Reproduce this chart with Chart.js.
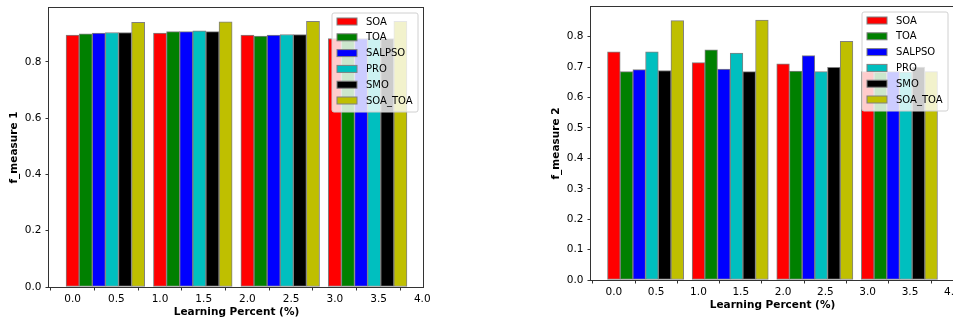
<!DOCTYPE html>
<html>
<head>
<meta charset="utf-8">
<script src="https://cdn.jsdelivr.net/npm/chart.js@4.4.1/dist/chart.umd.min.js"></script>
<style>
  html, body { margin: 0; padding: 0; background: #fff; overflow: hidden; }
  body { width: 953px; height: 322px; position: relative; }
  canvas { position: absolute; top: 0; }
  #chart1 { left: 0; }
  #chart2 { left: 542px; }
</style>
</head>
<body>
<canvas id="chart1" width="440" height="322"></canvas>
<canvas id="chart2" width="412" height="315"></canvas>
<script>
// group positions on the x axis (learning percent)
const groups = [0, 1, 2, 3];
const seriesNames = ['SOA', 'TOA', 'SALPSO', 'PRO', 'SMO', 'SOA_TOA'];
const seriesColors = ['#ff0000', '#008000', '#0000ff', '#00bfbf', '#000000', '#bfbf00'];

// f_measure 1
const f1_SOA = [0.895, 0.902, 0.895, 0.883];
const f1_TOA = [0.899, 0.907, 0.891, 0.883];
const f1_SALPSO = [0.902, 0.907, 0.895, 0.883];
const f1_PRO = [0.904, 0.910, 0.897, 0.883];
const f1_SMO = [0.904, 0.907, 0.897, 0.883];
const f1_SOA_TOA = [0.940, 0.942, 0.944, 0.944];

// f_measure 2
const f2_SOA = [0.750, 0.715, 0.711, 0.685];
const f2_TOA = [0.685, 0.757, 0.687, 0.684];
const f2_SALPSO = [0.692, 0.694, 0.738, 0.685];
const f2_PRO = [0.750, 0.746, 0.685, 0.684];
const f2_SMO = [0.689, 0.685, 0.699, 0.700];
const f2_SOA_TOA = [0.853, 0.855, 0.785, 0.685];

const xTickStep = 0.5;
const barWidth = 0.15;

Chart.defaults.font.family = "'DejaVu Sans', sans-serif";
Chart.defaults.color = '#000';

// box around the plot (top and right spines too)
const frame = {
    id: 'frame',
    afterDraw(chart) {
        const a = chart.chartArea;
        const ctx = chart.ctx;
        ctx.save();
        ctx.strokeStyle = '#333';
        ctx.lineWidth = 1;
        ctx.strokeRect(a.left - 0.5, a.top - 0.5, a.right - a.left, a.bottom - a.top + 1);
        ctx.restore();
    }
};

// matplotlib-like legend inside the upper right corner
const innerLegend = {
    id: 'innerLegend',
    afterDatasetsDraw(chart) {
        const a = chart.chartArea;
        const ctx = chart.ctx;
        const rowH = 15.8;
        const w = 86, h = 99;
        const x0 = a.right - 6 - w;
        const y0 = a.top + 5;
        ctx.save();
        ctx.globalAlpha = 0.8;
        ctx.fillStyle = '#fff';
        ctx.beginPath();
        ctx.roundRect(x0, y0, w, h, 2);
        ctx.fill();
        ctx.globalAlpha = 1;
        ctx.strokeStyle = '#d0d0d0';
        ctx.lineWidth = 1;
        ctx.stroke();
        ctx.font = "10px 'DejaVu Sans'";
        ctx.textBaseline = 'middle';
        chart.data.datasets.forEach((ds, i) => {
            const cy = y0 + 8.5 + i * rowH;
            ctx.fillStyle = ds.backgroundColor;
            ctx.fillRect(x0 + 5, cy - 3.5, 20, 7);
            ctx.strokeStyle = 'grey';
            ctx.strokeRect(x0 + 5, cy - 3.5, 20, 7);
            ctx.fillStyle = '#000';
            ctx.fillText(ds.label, x0 + 34, cy + 0.5);
        });
        ctx.restore();
    }
};

function makeDatasets(values) {
    return values.map((vals, i) => ({
        label: seriesNames[i],
        data: groups.map((g, j) => ({ x: g + i * barWidth, y: vals[j] })),
        backgroundColor: seriesColors[i],
        borderColor: 'grey',
        borderWidth: 1,
        borderSkipped: false,
        grouped: false,
        barPercentage: 1,
        categoryPercentage: 1
    }));
}

function createChart(canvasId, yLabel, values, yStep, padTop, padRight) {
    const all = values.flat();
    const yMax = Math.max(...all) * 1.05;
    const xMin = -barWidth / 2 - 0.05 * (groups[groups.length - 1] + (values.length - 1) * barWidth + barWidth);
    const xMax = groups[groups.length - 1] + (values.length - 1) * barWidth + barWidth / 2
        + 0.05 * (groups[groups.length - 1] + (values.length - 1) * barWidth + barWidth);
    const ctx = document.getElementById(canvasId).getContext('2d');
    return new Chart(ctx, {
        type: 'bar',
        data: { datasets: makeDatasets(values) },
        options: {
            responsive: false,
            animation: false,
            layout: { padding: { top: padTop, right: padRight, left: 0, bottom: 0 } },
            plugins: { legend: { display: false }, tooltip: { enabled: false } },
            scales: {
                x: {
                    type: 'linear',
                    min: xMin,
                    max: xMax,
                    offset: false,
                    grid: { drawOnChartArea: false, drawTicks: true, tickLength: 3.5, color: '#333' },
                    border: { display: false },
                    ticks: {
                        stepSize: xTickStep,
                        includeBounds: false,
                        autoSkip: false,
                        maxRotation: 0,
                        padding: 2,
                        font: { size: 10.5 },
                        callback: v => v.toFixed(1)
                    },
                    title: {
                        display: true,
                        text: 'Learning Percent (%)',
                        font: { size: 10.5, weight: 'bold' },
                        padding: { top: 0, bottom: 3 }
                    },
                    afterFit(scale) {
                        scale.height = 35;
                        scale.paddingLeft = 0;
                        scale.paddingRight = 0;
                    }
                },
                y: {
                    min: 0,
                    max: yMax,
                    grid: { drawOnChartArea: false, drawTicks: true, tickLength: 3.5, color: '#333' },
                    border: { display: false },
                    ticks: {
                        stepSize: yStep,
                        includeBounds: false,
                        padding: 4,
                        font: { size: 10.5 },
                        callback: v => v.toFixed(1)
                    },
                    title: {
                        display: true,
                        text: yLabel,
                        font: { size: 10.5, weight: 'bold' },
                        padding: { top: 8, bottom: 0 }
                    },
                    afterFit(scale) {
                        scale.width = 49;
                        scale.paddingTop = 0;
                        scale.paddingBottom = 0;
                    }
                }
            }
        },
        plugins: [innerLegend, frame]
    });
}

createChart('chart1', 'f_measure 1',
    [f1_SOA, f1_TOA, f1_SALPSO, f1_PRO, f1_SMO, f1_SOA_TOA], 0.2, 8, 16);
createChart('chart2', 'f_measure 2',
    [f2_SOA, f2_TOA, f2_SALPSO, f2_PRO, f2_SMO, f2_SOA_TOA], 0.1, 7, 0);
</script>
</body>
</html>
